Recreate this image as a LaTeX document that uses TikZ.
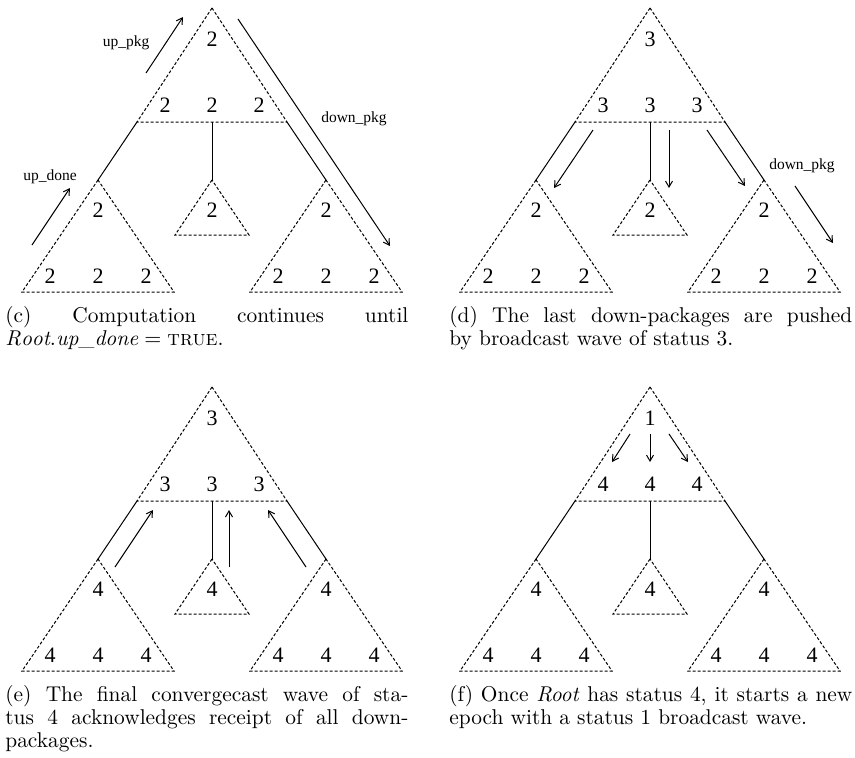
\documentclass[tikz,border=0pt]{standalone}
\usepackage{fontspec}
\usepackage{tikz}
\usetikzlibrary{arrows.meta}
\newfontfamily\figfont{Liberation Serif}
\tikzset{
    treeline/.style={line width=0.5pt},
    dotline/.style={line width=0.5pt, dash pattern=on 1.5pt off 1pt},
    status/.style={font=\figfont\fontsize{11}{13}\selectfont, inner sep=0pt},
    pkglabel/.style={font=\figfont\fontsize{7.75}{9}\selectfont, inner sep=0pt},
    wave/.style={line width=0.5pt, -{Straight Barb[length=3pt,width=3.5pt]}},
    subcap/.style={anchor=base west, inner sep=0pt, text width=201.5pt, align=justify,
        font=\fontsize{10.7}{11.5}\selectfont}
}

\begin{document}
\begin{tikzpicture}[x=0.5pt, y=-0.5pt]
    \useasboundingbox (0,0) rectangle (855,757);

    % ---------------- the four trees ----------------
    \foreach \px/\py/\r/\t/\b [count=\i] in {212/8/2/2/2, 650/8/3/3/2, 212/387/3/3/4, 650/387/1/4/4} {
        \begin{scope}[shift={(\px,\py)}]
            \coordinate (top\i) at (0,0);
            \coordinate (hl\i) at (-75,114);
            \coordinate (hm\i) at (0,114);
            \coordinate (hr\i) at (75,114);
            \coordinate (ls\i) at (-114,172);
            \coordinate (ms\i) at (0,172);
            \coordinate (rs\i) at (114,172);

            \draw[dotline] (top\i) -- (hl\i) -- (hr\i) -- cycle;
            \draw[treeline] (hl\i) -- (ls\i);
            \draw[treeline] (hm\i) -- (ms\i);
            \draw[treeline] (hr\i) -- (rs\i);
            \draw[dotline] (ls\i) -- ++(-76,112) -- ++(152,0) -- cycle;
            \draw[dotline] (ms\i) -- ++(-37,55) -- ++(74,0) -- cycle;
            \draw[dotline] (rs\i) -- ++(-76,112) -- ++(152,0) -- cycle;

            \node[status] (root\i) at (0,31) {\r};
            \foreach \x [count=\j] in {-47,0,47}
                \node[status] (row\i\j) at (\x,97) {\t};
            \foreach \x [count=\j] in {-114,0,114}
                \node[status] (sub\i\j) at (\x,202) {\b};
            \foreach \x [count=\j] in {-162,-114,-66,66,114,162}
                \node[status] (leaf\i\j) at (\x,268) {\b};
        \end{scope}
    }

    % ---------------- (c) ----------------
    \draw[wave] (146,73) -- (183,17);
    \draw[wave] (32,245) -- (70,188);
    \draw[wave] (238,19) -- (390,246);
    \node[pkglabel] (uppkg) at (126,43) {up\_pkg};
    \node[pkglabel] (updone) at (50,177) {up\_done};
    \node[pkglabel] (downpkg) at (354,119) {down\_pkg};
    \node[subcap] (capc) at (5,322)
        {(c) Computation continues until\linebreak $\mathit{Root}.\mathit{up\_done} = \textsc{true}$.};

    % ---------------- (d) ----------------
    \draw[wave] (593,130) -- (554,188);
    \draw[wave] (669,130) -- (669,188);
    \draw[wave] (707,130) -- (745,186);
    \draw[wave] (795,186) -- (833,243);
    \node[pkglabel] (downpkgd) at (802,166) {down\_pkg};
    \node[subcap] (capd) at (449,322)
        {(d) The last down-packages are pushed\linebreak by broadcast wave of status 3.};

    % ---------------- (e) ----------------
    \draw[wave] (115,567) -- (153,510);
    \draw[wave] (229,567) -- (229,510);
    \draw[wave] (306,567) -- (268,510);
    \node[subcap] (cape) at (5,701)
        {(e) The final convergecast wave of sta-\linebreak tus 4 acknowledges receipt of all down-\linebreak packages.};

    % ---------------- (f) ----------------
    \draw[wave] (630,434) -- (612,462);
    \draw[wave] (650,434) -- (650,462);
    \draw[wave] (669,434) -- (688,462);
    \node[subcap] (capf) at (449,701)
        {(f) Once \textit{Root} has status 4, it starts a new\linebreak epoch with a status 1 broadcast wave.};
\end{tikzpicture}
\end{document}
